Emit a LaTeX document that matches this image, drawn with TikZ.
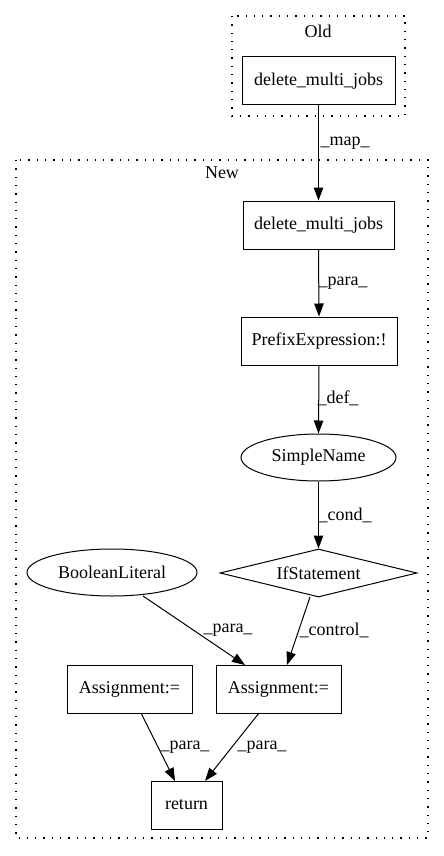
\documentclass[tikz,border=0pt]{standalone}
\usepackage{fontspec}
\setmainfont{Liberation Serif}
\usetikzlibrary{shapes.geometric,arrows.meta}
\begin{document}
\begin{tikzpicture}[x=1pt,y=-1pt,
  every node/.style={font=\fontsize{18}{21}\selectfont, inner sep=0pt},
  boxnode/.style={draw, line width=1pt, rectangle, minimum height=48pt},
  ellnode/.style={draw, line width=1pt, ellipse, minimum height=47pt},
  dianode/.style={draw, line width=1pt, diamond, aspect=4.1, minimum height=48pt, minimum width=197pt},
  cluster/.style={draw, line width=1.3pt, dash pattern=on 1.3pt off 7pt},
  edge/.style={draw, line width=1pt, -{Triangle[length=13pt,width=9.5pt]}},
  elab/.style={font=\fontsize{18}{21}\selectfont}
]
\useasboundingbox (0,0) rectangle (444,856);
% clusters
\draw[cluster] (232,16) rectangle (405,116);
\node (oldlab) at (318,31) {Old};
\draw[cluster] (16,160) rectangle (428,838);
\node (newlab) at (222,173) {New};
% nodes
\node[boxnode, minimum width=153pt] (old) at (318.5,81) {delete\_multi\_jobs};
\node[boxnode, minimum width=151pt] (new) at (318.5,225) {delete\_multi\_jobs};
\node[boxnode, minimum width=156pt] (prefix) at (319,341) {PrefixExpression:!};
\node[ellnode, minimum width=155pt] (simple) at (318.5,457.5) {SimpleName};
\node[dianode] (ifst) at (318.5,573) {IfStatement};
\node[ellnode, minimum width=170pt] (bool) at (112,572.5) {BooleanLiteral};
\node[boxnode, minimum width=125pt] (assl) at (129.5,689) {Assignment:=};
\node[boxnode, minimum width=125pt] (assr) at (278.5,689) {Assignment:=};
\node[boxnode, minimum width=71pt] (ret) at (186.5,805) {return};
% coordinates for slanted edges
\coordinate (ifout) at (310,597);
\coordinate (boolout) at (143,596);
\coordinate (asslout) at (141,713);
\coordinate (assrout) at (259,713);
\coordinate (assrin1) at (287,665);
\coordinate (assrin2) at (245,665);
\coordinate (retin1) at (175,781);
\coordinate (retin2) at (205,781);
% edges
\draw[edge] (old.south) -- (new.north);
\node[elab] (l1) at (345,143) {\_map\_};
\draw[edge] (new.south) -- (prefix.north);
\node[elab] (l2) at (343,283) {\_para\_};
\draw[edge] (prefix.south) -- (simple.north);
\node[elab] (l3) at (338,398) {\_def\_};
\draw[edge] (simple.south) -- (ifst.north);
\node[elab] (l4) at (345,515) {\_cond\_};
\draw[edge] (ifout) -- (assrin1);
\node[elab] (l5) at (334,630) {\_control\_};
\draw[edge] (boolout) -- (assrin2);
\node[elab] (l6) at (228,630) {\_para\_};
\draw[edge] (asslout) -- (retin1);
\node[elab] (l7) at (185,747) {\_para\_};
\draw[edge] (assrout) -- (retin2);
\node[elab] (l8) at (262,747) {\_para\_};
\end{tikzpicture}
\end{document}
